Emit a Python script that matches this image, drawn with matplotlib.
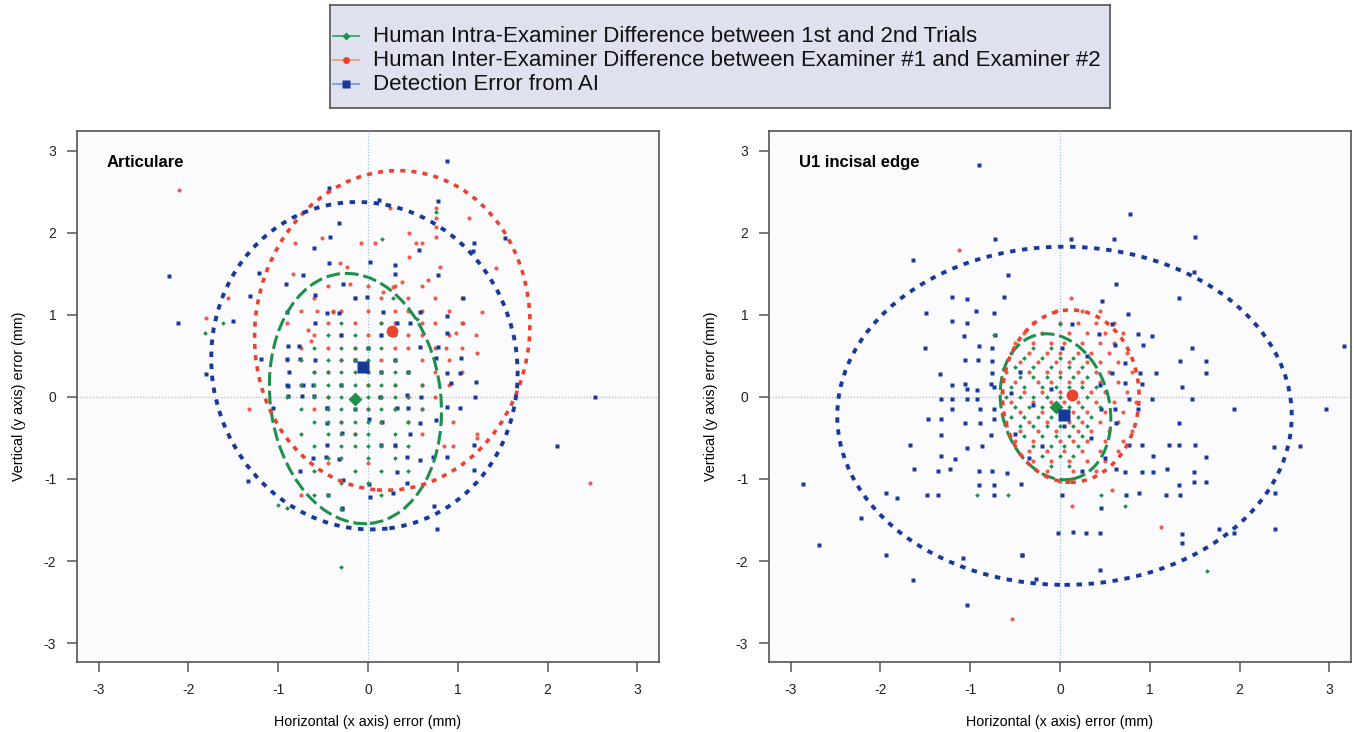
import matplotlib
matplotlib.use("Agg")
import matplotlib.pyplot as plt
from matplotlib.patches import Ellipse
from matplotlib.lines import Line2D

plt.rcParams['font.family'] = ['Liberation Sans', 'DejaVu Sans']

# ---------------- data (mm) ----------------
PANEL_TITLES = ["Articulare", "U1 incisal edge"]
TICKS = [-3, -2, -1, 0, 1, 2, 3]
LEGEND_LABELS = [
    "Human Intra-Examiner Difference between 1st and 2nd Trials",
    "Human Inter-Examiner Difference between Examiner #1 and Examiner #2",
    "Detection Error from AI",
]

# Articulare - intra-examiner (green), rows: y -> x values
ART_INTRA_ROWS = {
    0.9: [-0.3, 0.15],
    0.75: [-0.45, -0.15, 0.3],
    0.6: [-0.6, -0.3, -0.15, 0.0, 0.15],
    0.45: [-0.75, -0.45, -0.3, -0.15, 0.0, 0.3],
    0.3: [-0.6, -0.45, -0.3, -0.15, 0.0, 0.15, 0.3, 0.45],
    0.15: [-0.75, -0.6, -0.45, -0.3, -0.15, 0.0, 0.15, 0.3, 0.6],
    0.0: [-0.9, -0.6, -0.45, -0.3, -0.15, 0.0, 0.15, 0.3, 0.45],
    -0.15: [-0.75, -0.45, -0.3, -0.15, 0.0, 0.15, 0.3, 0.6],
    -0.3: [-0.6, -0.45, -0.3, -0.15, 0.0, 0.15, 0.45],
    -0.45: [-0.75, -0.45, -0.3, -0.15, 0.0, 0.3],
    -0.6: [-0.6, -0.3, -0.15, 0.0, 0.15, 0.45],
    -0.75: [-0.45, -0.3, 0.0, 0.3],
    -0.9: [-0.6, -0.15, 0.15],
    -1.05: [-0.3, 0.0],
    -1.2: [-0.45, 0.15],
}
ART_INTRA_EXTRA = [(-0.3, -2.07), (-1.62, 0.9), (-1.81, 0.78), (0.76, 2.25),
                   (0.16, 1.93), (-0.9, -1.35), (-0.6, -1.2), (0.28, 1.2),
                   (-1.0, -1.32), (0.45, -0.9), (-0.3, -1.36), (0.55, 0.95)]

# Articulare - inter-examiner (red)
ART_INTER_ROWS = {
    1.35: [-0.45, 0.0, 0.3, 0.6],
    1.2: [-0.6, -0.15, 0.15, 0.45, 0.75, 1.05],
    1.05: [-0.75, -0.3, 0.0, 0.3, 0.45, 0.6, 0.9],
    0.9: [-0.9, -0.45, -0.15, 0.15, 0.3, 0.6, 0.75, 1.05],
    0.75: [-0.6, -0.3, 0.0, 0.15, 0.45, 0.6, 0.9, 1.2],
    0.6: [-0.75, -0.45, -0.15, 0.0, 0.3, 0.45, 0.75, 1.05],
    0.45: [-0.9, -0.3, -0.15, 0.15, 0.3, 0.6, 0.9],
    0.3: [-0.6, -0.45, 0.0, 0.15, 0.45, 0.75, 1.05],
    0.15: [-0.75, -0.3, 0.0, 0.3, 0.6, 0.9],
    0.0: [-0.45, -0.15, 0.15, 0.45, 0.75],
    -0.15: [-1.33, -0.6, 0.0, 0.3, 0.6],
    -0.3: [-0.3, 0.15, 0.45, 0.95],
    -0.45: [-0.15, 0.6, 1.21],
    -0.6: [0.3, 0.85],
    -0.8: [-0.45, 0.0],
    -1.2: [-0.75],
}
ART_INTER_EXTRA = [(-2.1, 2.52), (2.47, -1.05), (0.76, 2.3), (0.76, 2.18), (0.76, 2.07),
                   (0.76, 1.95), (-0.51, 1.94), (-0.81, 1.88), (-0.83, 1.5), (-1.56, 1.2),
                   (-1.8, 0.96), (-0.57, 1.05), (-0.39, 1.05), (-0.67, 0.82), (-0.64, 0.68),
                   (-0.08, 1.88), (0.08, 1.88), (0.46, 2.0), (0.53, 1.88), (0.6, 1.88),
                   (1.13, 2.18), (1.43, 1.57), (1.27, 1.04), (1.21, 0.54), (1.06, 0.9),
                   (0.98, 0.78), (0.87, 0.6), (0.8, 1.58), (0.67, 1.43), (0.46, 1.71),
                   (0.38, 1.4), (0.28, 1.34), (0.17, 1.28), (-0.2, 1.37), (-0.23, 1.58),
                   (-0.31, 1.63), (-0.39, 1.04), (0.25, 2.3), (1.21, -0.5), (0.95, -0.6)]

# Articulare - AI detection error (blue)
ART_AI = [(-2.22, 1.47), (-2.11, 0.9), (-1.8, 0.28), (-1.5, 0.93), (-1.31, 1.23),
          (-1.21, 1.51), (-1.19, 0.46), (-0.9, 1.04), (-0.91, 1.38), (-0.72, 1.49),
          (-0.59, 1.24), (-0.59, 0.9), (-0.6, 1.82), (-0.43, 1.63), (-0.32, 2.12),
          (-0.42, 1.95), (-0.43, 2.54), (-0.32, 1.02), (-0.46, 1.02), (-0.89, 0.62),
          (-0.77, 0.62), (-0.9, 0.46), (-0.76, 0.46), (-0.59, 0.45), (-0.88, 0.3),
          (-0.89, 0.13), (-0.89, 0.01), (-1.06, -0.13), (-0.73, 0.01), (-0.6, 0.01),
          (-0.46, -0.13), (0.88, 2.87), (0.78, 2.39), (0.12, 2.4), (1.52, 1.94),
          (1.18, 1.88), (1.17, 1.78), (0.57, 1.79), (0.02, 1.64), (0.3, 1.61),
          (0.3, 1.5), (0.78, 1.49), (1.06, 1.2), (0.88, 0.98), (0.88, 0.78),
          (1.04, 0.48), (1.19, 0.0), (1.2, 0.18), (2.53, 0.0), (0.58, 1.04),
          (0.47, 0.9), (0.32, 0.9), (0.17, 1.04), (-0.01, 1.22), (-0.14, 1.2),
          (-0.28, 1.37), (0.58, 0.61), (0.78, 0.61), (0.76, 0.48), (0.88, 0.29),
          (1.02, 0.29), (0.43, 0.02), (0.59, 0.0), (0.88, -0.12), (1.02, -0.13),
          (0.92, 0.17), (2.1, -0.6), (1.18, -0.58), (1.18, -0.89), (0.88, -0.73),
          (0.76, -0.28), (0.72, -0.73), (0.58, -0.77), (0.43, -0.73), (0.43, -1.05),
          (0.28, -1.17), (0.32, -0.91), (0.3, -0.59), (0.47, -0.45), (0.58, -0.32),
          (0.14, -0.59), (0.01, -1.06), (0.02, -1.22), (-0.29, -1.35), (-0.32, -0.76),
          (0.74, -1.33), (0.77, -1.61), (0.01, -0.27), (0.16, -0.3), (0.32, -0.14),
          (0.13, 0.0), (0.44, -0.14), (-1.34, -1.03), (-0.76, -0.9), (-0.61, -0.74),
          (-0.47, -0.73), (-0.44, -1.2), (-0.29, -1.36), (-0.46, -0.59), (-0.46, -0.32),
          (-0.46, -0.14), (-0.29, -0.44), (-0.28, -1.01), (-0.9, 0.15), (-0.72, 0.15),
          (-0.61, 0.15), (-0.15, 0.45), (0.0, 0.6), (0.15, 0.3), (-0.3, 0.75),
          (-0.15, -0.15), (0.3, 0.45), (-0.3, 0.15), (0.15, 0.75), (0.45, 0.3)]

# U1 incisal edge - intra-examiner (green)
U1_INTRA_ROWS = {
    0.6: [-0.3, -0.1],
    0.48: [-0.4, -0.2, 0.0, 0.15],
    0.36: [-0.5, -0.3, -0.1, 0.1, 0.25],
    0.24: [-0.45, -0.3, -0.15, 0.0, 0.15, 0.3],
    0.12: [-0.55, -0.4, -0.2, -0.05, 0.1, 0.25, 0.4],
    0.0: [-0.6, -0.45, -0.3, -0.15, 0.0, 0.15, 0.3],
    -0.12: [-0.5, -0.35, -0.2, -0.05, 0.1, 0.25, 0.45],
    -0.24: [-0.55, -0.4, -0.25, -0.1, 0.05, 0.2, 0.35],
    -0.36: [-0.45, -0.3, -0.15, 0.0, 0.15, 0.3],
    -0.48: [-0.4, -0.2, -0.05, 0.1, 0.25],
    -0.6: [-0.3, -0.1, 0.05, 0.2],
    -0.72: [-0.2, 0.0, 0.15],
    -0.84: [-0.1, 0.1],
}
U1_INTRA_EXTRA = [(-0.92, -1.2), (-0.58, -1.2), (1.64, -2.12), (0.72, -1.33),
                  (0.46, -1.2), (-0.74, 0.76), (0.0, 0.89), (-0.62, 0.35)]

# U1 incisal edge - inter-examiner (red)
U1_INTER_ROWS = {
    1.2: [0.12],
    1.05: [-0.05, 0.25, 0.45],
    0.9: [-0.3, 0.0, 0.2, 0.4, 0.6],
    0.78: [-0.4, -0.2, 0.1, 0.3, 0.5, 0.7],
    0.66: [-0.5, -0.3, -0.1, 0.05, 0.25, 0.45, 0.6],
    0.54: [-0.55, -0.35, -0.15, 0.0, 0.2, 0.35, 0.55, 0.75],
    0.42: [-0.45, -0.25, -0.05, 0.1, 0.3, 0.45, 0.65],
    0.3: [-0.6, -0.35, -0.15, 0.0, 0.2, 0.4, 0.55, 0.8],
    0.18: [-0.5, -0.25, -0.1, 0.1, 0.25, 0.45, 0.65],
    0.06: [-0.65, -0.4, -0.2, 0.0, 0.15, 0.35, 0.5, 0.75],
    -0.06: [-0.55, -0.3, -0.1, 0.05, 0.2, 0.4, 0.6, 0.85],
    -0.18: [-0.45, -0.2, 0.0, 0.15, 0.3, 0.5, 0.7],
    -0.3: [-0.6, -0.35, -0.15, 0.1, 0.25, 0.45, 0.65],
    -0.42: [-0.45, -0.25, -0.05, 0.2, 0.35, 0.55, 0.8],
    -0.54: [-0.5, -0.3, 0.0, 0.15, 0.3, 0.5, 0.7],
    -0.66: [-0.35, -0.15, 0.05, 0.25, 0.45, 0.65],
    -0.78: [-0.3, -0.1, 0.1, 0.3, 0.5],
    -0.9: [-0.15, 0.15, 0.4],
    -1.02: [0.0],
}
U1_INTER_EXTRA = [(-1.13, 1.79), (-0.53, -2.7), (1.12, -1.58), (0.58, -1.13), (0.13, -1.33)]

# U1 incisal edge - AI detection error (blue)
U1_AI = [(-0.9, 2.82), (-0.72, 1.93), (-1.64, 1.67), (-0.58, 1.49), (-0.62, 1.22),
         (-1.2, 1.22), (-1.03, 1.19), (-1.49, 1.02), (-0.93, 1.05), (-0.73, 1.02),
         (-1.2, 0.93), (-1.04, 0.9), (-1.07, 0.74), (-0.72, 0.76), (-1.5, 0.59),
         (-0.9, 0.62), (-0.76, 0.6), (-1.06, 0.45), (-0.91, 0.45), (-0.76, 0.44),
         (-1.34, 0.28), (-0.76, 0.29), (-1.2, 0.15), (-1.06, 0.16), (-1.03, 0.1),
         (-0.92, 0.09), (-0.77, 0.16), (-0.73, 0.12), (-1.33, -0.02), (-1.2, -0.02),
         (-1.04, -0.02), (-0.92, -0.02), (-1.2, -0.15), (-0.89, -0.15), (-0.74, -0.15),
         (-1.47, -0.27), (-1.33, -0.27), (-1.33, -0.46), (-1.06, -0.32), (-0.89, -0.32),
         (-0.73, -0.27), (-0.77, -0.46), (-1.67, -0.59), (-1.04, -0.62), (-0.87, -0.6),
         (-1.32, -0.72), (-1.17, -0.76), (-1.63, -0.88), (-1.36, -0.9), (-1.22, -0.88),
         (-0.9, -0.9), (-0.76, -0.9), (-0.59, -0.93), (-0.9, -1.07), (-0.74, -1.07),
         (-0.43, -1.06), (-0.74, -1.2), (-1.48, -1.19), (-1.36, -1.2), (-1.81, -1.23),
         (-1.94, -1.17), (-2.86, -1.06), (-2.68, -1.81), (-2.22, -1.48), (-1.94, -1.93),
         (-1.64, -2.23), (-1.04, -2.54), (-1.08, -1.96), (-0.42, -1.93), (-0.27, -2.22),
         (0.78, 2.23), (0.12, 1.93), (0.6, 1.93), (1.5, 1.95), (1.49, 1.52),
         (0.62, 1.37), (1.33, 1.21), (0.47, 1.17), (0.76, 1.01), (0.13, 0.89),
         (0.58, 0.89), (0.43, 0.77), (0.87, 0.77), (1.02, 0.74), (0.61, 0.63),
         (0.92, 0.63), (1.47, 0.6), (3.16, 0.62), (0.02, 0.6), (1.34, 0.44),
         (1.63, 0.44), (0.72, 0.41), (1.07, 0.29), (0.89, 0.29), (1.63, 0.29),
         (0.58, 0.29), (0.91, 0.16), (1.36, 0.12), (0.72, 0.17), (1.47, -0.02),
         (1.02, -0.02), (0.77, -0.02), (0.61, -0.15), (0.87, -0.15), (1.94, -0.15),
         (2.96, -0.15), (0.46, -0.15), (1.33, -0.32), (0.62, -0.32), (1.21, -0.59),
         (1.33, -0.59), (1.5, -0.59), (0.91, -0.59), (0.77, -0.59), (2.38, -0.61),
         (2.67, -0.6), (1.62, -0.73), (1.03, -0.72), (1.19, -0.88), (1.04, -0.91),
         (0.91, -0.91), (0.72, -0.91), (0.62, -0.88), (1.49, -0.91), (1.49, -1.04),
         (1.63, -1.04), (1.33, -1.07), (1.18, -1.2), (1.34, -1.2), (0.88, -1.17),
         (0.73, -1.2), (2.39, -1.17), (0.02, -1.2), (0.46, -1.35), (2.39, -1.61),
         (1.77, -1.61), (1.94, -1.66), (1.36, -1.67), (1.36, -1.78), (-0.02, -1.66),
         (0.14, -1.64), (0.29, -1.66), (0.44, -1.66), (0.44, -2.11), (-0.42, -1.93),
         (-0.45, 0.3), (-0.3, -0.1), (0.3, 0.5), (0.05, -0.35), (-0.2, -0.6),
         (0.35, -0.5), (0.45, 0.15), (-0.5, -0.45), (0.5, -0.75), (0.25, -0.9),
         (-0.1, 0.1), (-0.55, 0.05), (-0.35, -0.75)]

# centroids (green, red, blue)
ART_CENTROIDS = [(-0.14, -0.02), (0.27, 0.80), (-0.06, 0.37)]
U1_CENTROIDS = [(-0.05, -0.12), (0.13, 0.02), (0.04, -0.22)]

# confidence ellipses: (cx, cy, semi_x, semi_y, angle_deg) for green, red, blue
ART_ELLIPSES = [(-0.14, -0.02, 0.95, 1.53, 6), (0.27, 0.81, 1.53, 1.95, -5),
                (-0.04, 0.38, 1.70, 2.00, 8)]
U1_ELLIPSES = [(-0.05, -0.12, 0.60, 0.90, 12), (0.12, 0.01, 0.76, 1.05, 0),
               (0.05, -0.23, 2.53, 2.06, 0)]

# ---------------- styling ----------------
GREEN = '#1f8f4c'
RED = '#e8432f'
BLUE = '#18399a'
LEG_LINE = ['#3aa566', '#f39a80', '#6f9fe0']
REF = '#9ec3dc'


def expand(rows, extra):
    xs, ys = [], []
    for y, xl in rows.items():
        for x in xl:
            xs.append(x)
            ys.append(y)
    for x, y in extra:
        xs.append(x)
        ys.append(y)
    return xs, ys


def unzip(pts):
    return [p[0] for p in pts], [p[1] for p in pts]


W, H = 1354, 732
fig = plt.figure(figsize=(W / 100, H / 100), dpi=100)
fig.patch.set_facecolor('white')

panels = [
    (77, PANEL_TITLES[0], (ART_INTRA_ROWS, ART_INTRA_EXTRA), (ART_INTER_ROWS, ART_INTER_EXTRA),
     ART_AI, ART_CENTROIDS, ART_ELLIPSES),
    (769, PANEL_TITLES[1], (U1_INTRA_ROWS, U1_INTRA_EXTRA), (U1_INTER_ROWS, U1_INTER_EXTRA),
     U1_AI, U1_CENTROIDS, U1_ELLIPSES),
]

for left_px, title, intra, inter, ai, cents, ells in panels:
    ax = fig.add_axes([left_px / W, (H - 662) / H, 582 / W, 531 / H])
    ax.set_facecolor('#fbfbfe')
    ax.set_xlim(-3.24, 3.24)
    ax.set_ylim(-3.23, 3.24)
    ax.axhline(0, color=REF, lw=0.9, ls=(0, (1, 1.5)), zorder=1)
    ax.axvline(0, color=REF, lw=0.9, ls=(0, (1, 1.5)), zorder=1)

    gx, gy = expand(*intra)
    rx, ry = expand(*inter)
    bx, by = unzip(ai)
    ax.plot(rx, ry, ls='none', marker='o', ms=3.0, mfc=RED, mec='none', alpha=0.85, zorder=2)
    ax.plot(bx, by, ls='none', marker='s', ms=2.9, mfc=BLUE, mec='none', zorder=3)
    ax.plot(gx, gy, ls='none', marker='D', ms=2.4, mfc=GREEN, mec='none', zorder=4)

    styles = [
        dict(color=GREEN, lw=2.2, ls=(0, (4.5, 1.6))),
        dict(color=RED, lw=2.6, ls=(0, (1.4, 1.7))),
        dict(color=BLUE, lw=2.8, ls=(0, (1.4, 1.7))),
    ]
    for (cx, cy, sx, sy, ang), st in zip(ells, styles):
        e = Ellipse((cx, cy), 2 * sx, 2 * sy, angle=ang, fill=False,
                    edgecolor=st['color'], linewidth=st['lw'], linestyle=st['ls'], zorder=5)
        ax.add_patch(e)

    ax.plot(cents[0][0], cents[0][1], ls='none', marker='D', ms=7, mfc=GREEN, mec='none', zorder=6)
    ax.plot(cents[1][0], cents[1][1], ls='none', marker='o', ms=8.5, mfc=RED, mec='none', zorder=6)
    ax.plot(cents[2][0], cents[2][1], ls='none', marker='s', ms=8, mfc=BLUE, mec='none', zorder=7)

    ax.text(-2.91, 2.86, title, fontsize=12, fontweight='bold', ha='left', va='center')

    ax.set_xticks(TICKS)
    ax.set_yticks(TICKS)
    ax.set_xticklabels([str(t) for t in TICKS])
    ax.set_yticklabels([str(t) for t in TICKS])
    ax.tick_params(direction='out', length=7, width=1.1, color='#555555',
                   labelsize=10, labelcolor='#222222', pad=8)
    ax.tick_params(top=False, right=False)
    for sp in ax.spines.values():
        sp.set_color('#555555')
        sp.set_linewidth(1.2)
    ax.set_xlabel('Horizontal (x axis) error (mm)', fontsize=10.3, labelpad=13)
    ax.set_ylabel('Vertical (y axis) error (mm)', fontsize=10.3, labelpad=13)

# ---------------- legend box ----------------
lax = fig.add_axes([330 / W, (H - 108) / H, 780 / W, 103 / H])
lax.set_xlim(0, 780)
lax.set_ylim(103, 0)
lax.set_facecolor('#dfe1ee')
lax.set_xticks([])
lax.set_yticks([])
for sp in lax.spines.values():
    sp.set_color('#555555')
    sp.set_linewidth(1.2)
row_y = [31, 55, 79]
markers = ['D', 'o', 's']
mcol = [GREEN, RED, BLUE]
msz = [4, 5, 5.5]
for i in range(3):
    lax.add_line(Line2D([3, 29], [row_y[i], row_y[i]], color=LEG_LINE[i], lw=1.3))
    lax.plot([16], [row_y[i]], ls='none', marker=markers[i], ms=msz[i], mfc=mcol[i], mec='none')
    lax.text(43, row_y[i] + 1, LEGEND_LABELS[i], fontsize=16, ha='left', va='center', color='#111111')

fig.savefig('out.png', dpi=100)
